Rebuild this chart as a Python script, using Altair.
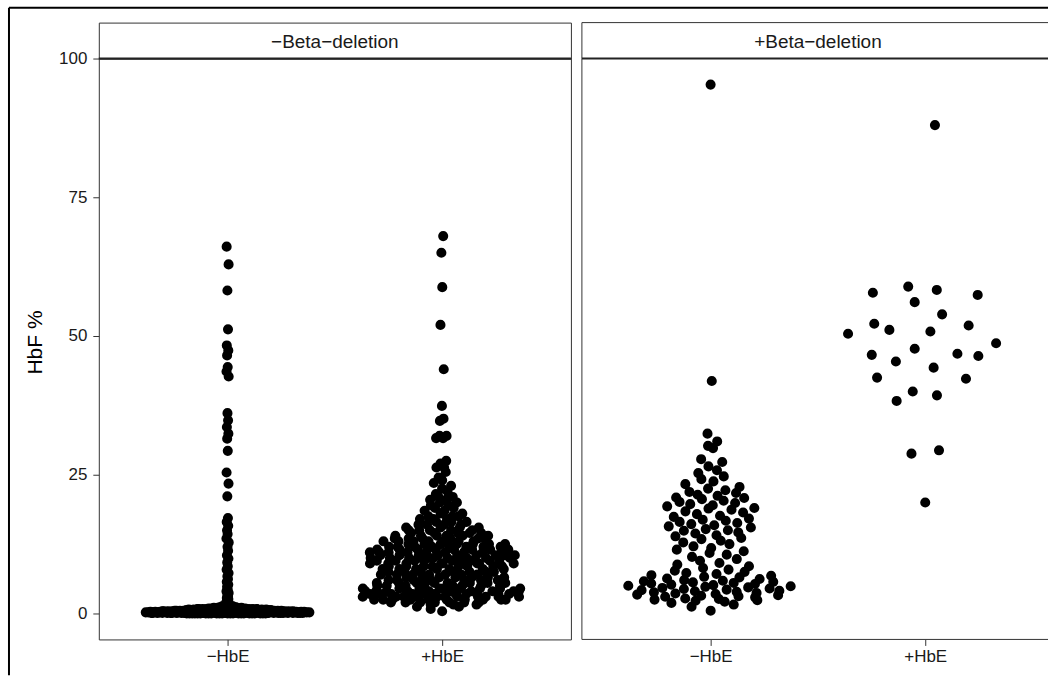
import numpy as np
import pandas as pd
import altair as alt

FONT = "Liberation Sans"

# ---------------- data (HbF %) ----------------
panel_labels = ["\u2212Beta\u2212deletion", "+Beta\u2212deletion"]
group_labels = ["\u2212HbE", "+HbE"]

# Panel 1, -HbE: dense baseline (value : number of samples)
p1_neg_band_values = [0.0, 0.1, 0.2, 0.3, 0.4, 0.5, 0.6, 0.7, 0.8, 0.9, 1.0, 1.1, 1.2, 1.3, 1.4, 1.5]
p1_neg_band_counts = [24, 45, 48, 42, 36, 30, 25, 21, 17, 12, 8, 5, 4, 3, 2, 2]
# Panel 1, -HbE: individual higher values
p1_neg_upper = [1.6, 1.7, 1.9, 2.0, 2.2, 2.4, 2.6, 2.8, 3.1, 3.4, 3.7, 4.0, 4.4, 4.8, 5.2, 5.7,
                6.2, 6.7, 7.3, 7.9, 8.5, 9.2, 9.9, 10.5, 11.3, 12.0, 12.8, 13.5, 14.3, 15.0,
                15.8, 16.5, 17.2, 21.1, 23.4, 25.4, 29.3, 31.5, 32.4, 33.6, 34.8, 36.1, 42.7,
                43.6, 44.4, 46.5, 47.4, 48.3, 51.2, 58.2, 62.9, 66.1]

# Panel 1, +HbE (value : number of samples)
p1_pos_values = [0.4, 0.8, 1.2, 1.6, 2.0, 2.5, 3.0, 3.5, 4.0, 4.5, 5.0, 5.5, 6.0, 6.5, 7.0, 7.5,
                 8.0, 8.5, 9.0, 9.5, 10.0, 10.5, 11.0, 11.5, 12.0, 12.5, 13.0, 13.5, 14.0, 14.5,
                 15.0, 15.5, 16.0, 16.5, 17.0, 17.5, 18.0, 18.5, 19.0, 19.5, 20.0, 20.5, 21.0,
                 21.5, 22.0, 22.5, 23.0, 23.5, 24.0, 24.5, 25.5, 26.3, 27.0, 27.5, 31.6, 32.0,
                 34.7, 35.1, 37.4, 44.0, 52.0, 58.8, 65.0, 68.0]
p1_pos_counts = [1, 1, 2, 3, 7, 10, 11, 11, 10, 9, 8, 8, 7, 7, 7, 7,
                 7, 8, 8, 9, 9, 9, 9, 8, 8, 7, 7, 6, 6, 5,
                 5, 4, 4, 3, 3, 3, 2, 2, 2, 2, 2, 2, 2,
                 1, 1, 1, 1, 1, 1, 1, 1, 2, 1, 1, 2, 2,
                 1, 1, 1, 1, 1, 1, 1, 1]

# Panel 2, -HbE
p2_neg = [0.5, 1.2, 1.6, 1.9, 2.1, 2.3, 2.4, 2.5, 2.6, 2.7, 2.9,
          3.0, 3.1, 3.2, 3.3, 3.4, 3.5, 3.6, 3.7, 3.8, 3.9,
          4.0, 4.1, 4.2, 4.3, 4.4, 4.5, 4.6, 4.7, 4.8, 4.9,
          5.0, 5.1, 5.2, 5.3, 5.4, 5.5, 5.6, 5.7, 5.8, 5.9,
          6.0, 6.2, 6.3, 6.5, 6.6, 6.8, 6.9, 7.1, 7.3, 7.5, 7.7, 7.9,
          8.2, 8.5, 8.8, 9.1, 9.5, 9.8, 10.2, 10.6, 10.9, 11.2, 11.5, 11.8,
          12.1, 12.5, 12.8, 13.1, 13.4, 13.6, 13.9, 14.1, 14.4, 14.6, 14.9,
          15.0, 15.2, 15.5, 15.7, 15.9, 16.1, 16.3, 16.5, 16.7, 16.9,
          17.1, 17.4, 17.6, 17.9, 18.2, 18.4, 18.7, 18.9,
          19.0, 19.3, 19.5, 19.7, 19.9, 20.1, 20.3, 20.6, 20.8, 20.9,
          21.2, 21.4, 21.7, 21.9, 22.2, 22.5, 22.8, 23.3, 23.8, 24.2, 24.7,
          25.3, 25.8, 26.5, 27.3, 27.8, 29.8, 30.2, 31.0, 32.4, 41.9, 95.3]

# Panel 2, +HbE
p2_pos = [88.0, 57.8, 58.9, 58.3, 57.4, 56.1, 53.9, 52.2, 51.1, 50.8, 51.9, 50.4, 48.7,
          46.6, 47.7, 46.8, 46.4, 45.4, 44.3, 42.5, 42.3, 40.0, 39.3, 38.3, 28.8, 29.4, 20.0]


# ---------------- quasirandom (vipor / ggbeeswarm style) offsets ----------------
def van_der_corput(n, base=2):
    out = []
    for i in range(1, n + 1):
        v, denom, k = 0.0, 1.0, i
        while k > 0:
            denom *= base
            k, rem = divmod(k, base)
            v += rem / denom
        out.append(v)
    return np.array(out)


def nrd0(y):
    sd = np.std(y, ddof=1)
    q75, q25 = np.percentile(y, [75, 25])
    lo = min(sd, (q75 - q25) / 1.34)
    if lo <= 0:
        lo = sd if sd > 0 else 1.0
    return 0.9 * lo * len(y) ** (-0.2)


def quasirandom(y, width=0.4, adjust=0.5):
    y = np.asarray(y, dtype=float)
    h = nrd0(y) * adjust

    def dens(t):
        return np.exp(-0.5 * ((t[:, None] - y[None, :]) / h) ** 2).sum(axis=1)

    grid = np.linspace(y.min() - 3 * h, y.max() + 3 * h, 1024)
    dp = dens(y)
    dmax = max(dens(grid).max(), dp.max())
    dp = dp / dmax
    ranks = np.argsort(np.argsort(y, kind="stable"), kind="stable")
    return (van_der_corput(len(y))[ranks] - 0.5) * 2 * dp * width


groups = {
    (0, 0): list(np.repeat(p1_neg_band_values, p1_neg_band_counts)) + p1_neg_upper,
    (0, 1): list(np.repeat(p1_pos_values, p1_pos_counts)),
    (1, 0): p2_neg,
    (1, 1): p2_pos,
}

frames = []
for (panel, grp), vals in groups.items():
    vals = np.asarray(vals, dtype=float)
    off = quasirandom(vals)
    frames.append(pd.DataFrame({
        "panel": panel_labels[panel],
        "group": group_labels[grp],
        "hbf": vals,
        "xpos": (grp + 1) + off,
    }))
df = pd.concat(frames, ignore_index=True)

# ---------------- layout ----------------
W1, W2, H, HS = 473, 468, 582, 36
UNIT = W1 / 2.2
x_dom1 = [0.4, 2.6]
x_dom2 = [0.4, 0.4 + W2 / UNIT]
y_dom = [-4.68, 100]
one = pd.DataFrame({"k": [0]})
DOT = 102

x_axis = alt.Axis(values=[1, 2], labelExpr="datum.value == 1 ? '\u2212HbE' : '+HbE'",
                  title=None, grid=False, domain=False, tickColor="#333333", tickSize=6,
                  labelFont=FONT, labelFontSize=17, labelColor="#1a1a1a", labelPadding=3)
y_axis = alt.Axis(values=[0, 25, 50, 75, 100], title="HbF %", grid=False, domain=False,
                  tickColor="#333333", tickSize=6, labelFont=FONT, labelFontSize=17,
                  labelColor="#1a1a1a", labelPadding=6, titleFont=FONT, titleFontSize=21,
                  titleFontWeight="normal", titleColor="black", titlePadding=13, titleY=284)


def point_layer(panel_idx, xdom, yaxis):
    sub = df[df["panel"] == panel_labels[panel_idx]]
    return alt.Chart(sub).mark_circle(size=DOT, color="black", opacity=1).encode(
        x=alt.X("xpos:Q", scale=alt.Scale(domain=xdom, nice=False, zero=False), axis=x_axis),
        y=alt.Y("hbf:Q", scale=alt.Scale(domain=y_dom, nice=False, zero=False), axis=yaxis),
    )


def strip_text(label):
    return alt.Chart(pd.DataFrame({"label": [label]})).mark_text(
        font=FONT, fontSize=19, color="#1a1a1a", baseline="middle", align="center"
    ).encode(text="label:N", x=alt.value(W1 / 2), y=alt.value(HS / 2 + 1))


def rule(width=1, color="#333333", **enc):
    return alt.Chart(one).mark_rule(color=color, strokeWidth=width).encode(**enc)


frame_rules = [
    rule(2, "black", x=alt.value(-90), y=alt.value(-15), y2=alt.value(676 - 21 - 1)),
    rule(2, "black", x=alt.value(-90), x2=alt.value(1049 - 98), y=alt.value(-15)),
]

strip1 = alt.layer(strip_text(panel_labels[0]), *frame_rules).properties(
    width=W1, height=HS, view=alt.ViewBackground(stroke="#333333", strokeWidth=1))
plot1 = alt.layer(
    point_layer(0, x_dom1, y_axis),
    rule(2, "#222222", x=alt.value(0), x2=alt.value(W1), y=alt.value(0)),
).properties(width=W1, height=H, view=alt.ViewBackground(stroke="#333333", strokeWidth=1))

strip2 = alt.layer(
    strip_text(panel_labels[1]),
    rule(x=alt.value(0), x2=alt.value(W2 - 1), y=alt.value(0)),
    rule(x=alt.value(0), y=alt.value(0), y2=alt.value(HS)),
).properties(width=W2, height=HS, view=alt.ViewBackground(strokeOpacity=0))

plot2 = alt.layer(
    point_layer(1, x_dom2, None),
    rule(x=alt.value(0), y=alt.value(0), y2=alt.value(H)),
    rule(2, "#222222", x=alt.value(0), x2=alt.value(W2 - 1), y=alt.value(0)),
    rule(x=alt.value(0), x2=alt.value(W2 - 1), y=alt.value(H)),
).properties(width=W2, height=H, view=alt.ViewBackground(strokeOpacity=0))

chart = alt.concat(
    strip1, strip2, plot1, plot2,
    columns=2, spacing={"row": 0, "column": 11}, bounds="flush", align="each",
).properties(
    padding={"left": 7, "top": 5, "right": 0, "bottom": 0},
    background="white",
).configure_view(stroke="#333333", strokeWidth=1)

chart.save("out.html", embed_options={"renderer": "svg", "actions": False})
